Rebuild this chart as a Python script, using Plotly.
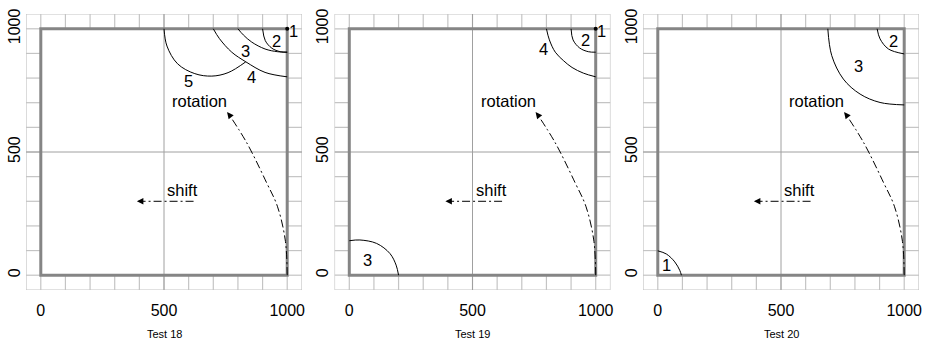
import plotly.graph_objects as go

# ---------------- data ----------------
panel_titles = ["Test 18", "Test 19", "Test 20"]
tick_vals = [0, 500, 1000]
band_ticks = [0, 100, 200, 300, 400, 500, 600, 700, 800, 900, 1000]
axis_range = [-60, 1060]

p18_c2_x = [900, 911, 938, 972, 1000]
p18_c2_y = [1000, 952, 921, 907, 905]
p18_c3_x = [800, 822, 856, 910, 960, 1000]
p18_c3_y = [1000, 975, 946, 918, 907, 905]
p18_c4_x = [700, 725, 775, 832, 910, 1000]
p18_c4_y = [1000, 960, 905, 866, 823, 805]
p18_c5_x = [500, 512, 555, 625, 694, 760, 832]
p18_c5_y = [1000, 930, 858, 818, 808, 822, 866]

p19_c2_x = [900, 908, 935, 970, 1000]
p19_c2_y = [1000, 955, 922, 907, 905]
p19_c4_x = [800, 812, 836, 870, 904, 950, 1000]
p19_c4_y = [1000, 955, 905, 870, 843, 820, 805]
p19_c3_x = [0, 43, 111, 165, 190, 200]
p19_c3_y = [140, 143, 129, 88, 41, 0]

p20_c2_x = [890, 902, 936, 1000]
p20_c2_y = [1000, 959, 918, 898]
p20_c3_x = [690, 706, 753, 821, 902, 1000]
p20_c3_y = [1000, 891, 796, 735, 701, 691]
p20_c1_x = [0, 35, 69, 89, 96]
p20_c1_y = [99, 86, 54, 20, 0]

curves = [
    [(p18_c2_x, p18_c2_y), (p18_c3_x, p18_c3_y), (p18_c4_x, p18_c4_y), (p18_c5_x, p18_c5_y)],
    [(p19_c2_x, p19_c2_y), (p19_c4_x, p19_c4_y), (p19_c3_x, p19_c3_y)],
    [(p20_c2_x, p20_c2_y), (p20_c3_x, p20_c3_y), (p20_c1_x, p20_c1_y)],
]
corner_points = [[(1000, 1000)], [(1000, 1000)], []]

labels = [
    [("1", 1024, 993), ("2", 958, 952), ("3", 829, 909), ("4", 856, 803), ("5", 599, 789)],
    [("1", 1024, 993), ("2", 960, 954), ("4", 789, 918), ("3", 73, 61)],
    [("1", 35, 41), ("2", 957, 952), ("3", 814, 850)],
]

rot_x = [1000, 992, 960, 917, 836, 768]
rot_y = [0, 143, 280, 374, 537, 646]
rot_head = (756, 662)
rot_tail = (776, 637)
shift_x = [620, 405]
shift_y = [300, 300]
shift_head = (390, 300)
shift_tail = (420, 300)
rotation_text = ("rotation", 646, 707)
shift_text = ("shift", 576, 347)

# ---------------- layout ----------------
W, H = 930, 342
x_domains = [[26 / W, 302 / W], [334.5 / W, 610.5 / W], [643 / W, 919 / W]]
y_domain = [52 / H, 328 / H]
FONT = "Liberation Sans, Arial, Helvetica, sans-serif"
BAND = "#c4c4c4"
GRID = "#a0a0a0"
BORDER = "#858585"

fig = go.Figure()
shapes = []
annotations = []

for i in range(3):
    xa = "x" if i == 0 else f"x{i+1}"
    ya = "y" if i == 0 else f"y{i+1}"
    lo, hi = axis_range
    for t in band_ticks:
        for (a, b) in [(lo, 0), (1000, hi)]:
            shapes.append(dict(type="line", xref=xa, yref=ya, x0=t, x1=t, y0=a, y1=b,
                               line=dict(color=BAND, width=1.2), layer="below"))
            shapes.append(dict(type="line", xref=xa, yref=ya, y0=t, y1=t, x0=a, x1=b,
                               line=dict(color=BAND, width=1.2), layer="below"))
    shapes.append(dict(type="rect", xref=xa, yref=ya, x0=lo, x1=hi, y0=lo, y1=hi,
                       line=dict(color=BAND, width=1.2), layer="below"))
    shapes.append(dict(type="line", xref=xa, yref=ya, x0=500, x1=500, y0=lo, y1=hi,
                       line=dict(color=GRID, width=1), layer="below"))
    shapes.append(dict(type="line", xref=xa, yref=ya, y0=500, y1=500, x0=lo, x1=hi,
                       line=dict(color=GRID, width=1), layer="below"))
    shapes.append(dict(type="rect", xref=xa, yref=ya, x0=0, x1=1000, y0=0, y1=1000,
                       line=dict(color=BORDER, width=3), layer="below"))

    for (cx, cy) in curves[i]:
        fig.add_trace(go.Scatter(x=cx, y=cy, xaxis=xa, yaxis=ya, mode="lines",
                                 line=dict(color="black", width=1, shape="spline", smoothing=1),
                                 hoverinfo="skip", showlegend=False))
    for (px, py) in corner_points[i]:
        fig.add_trace(go.Scatter(x=[px], y=[py], xaxis=xa, yaxis=ya, mode="markers",
                                 marker=dict(color="black", size=4), showlegend=False))

    fig.add_trace(go.Scatter(x=rot_x, y=rot_y, xaxis=xa, yaxis=ya, mode="lines",
                             line=dict(color="black", width=1, shape="spline",
                                       dash="8px,3px,2px,3px"),
                             hoverinfo="skip", showlegend=False))
    fig.add_trace(go.Scatter(x=shift_x, y=shift_y, xaxis=xa, yaxis=ya, mode="lines",
                             line=dict(color="black", width=1, dash="8px,3px,2px,3px"),
                             hoverinfo="skip", showlegend=False))
    for head, tail in [(rot_head, rot_tail), (shift_head, shift_tail)]:
        annotations.append(dict(x=head[0], y=head[1], ax=tail[0], ay=tail[1],
                                xref=xa, yref=ya, axref=xa, ayref=ya, text="",
                                showarrow=True, arrowhead=2, arrowsize=1.3,
                                arrowwidth=1, arrowcolor="black"))

    for (txt, tx, ty) in labels[i] + [rotation_text, shift_text]:
        annotations.append(dict(x=tx, y=ty, xref=xa, yref=ya, text=txt, showarrow=False,
                                font=dict(size=16.5, color="black", family=FONT)))

    annotations.append(dict(x=0.5, y=(H - 334) / H, xref=f"{xa} domain", yref="paper",
                            yanchor="middle", text=panel_titles[i], showarrow=False,
                            font=dict(size=11, color="black", family=FONT)))

    axis_common = dict(range=axis_range, showgrid=False, zeroline=False, showline=False,
                       tickvals=tick_vals, ticktext=[str(v) for v in tick_vals],
                       tickfont=dict(size=16, color="black", family=FONT),
                       ticks="outside", tickcolor="rgba(0,0,0,0)",
                       fixedrange=True, automargin=False)
    xkey = "xaxis" if i == 0 else f"xaxis{i+1}"
    ykey = "yaxis" if i == 0 else f"yaxis{i+1}"
    fig.layout[xkey] = dict(domain=x_domains[i], anchor=ya, ticklen=6, **axis_common)
    fig.layout[ykey] = dict(domain=y_domain, anchor=xa, tickangle=-90, ticklen=0.1,
                            ticklabelstandoff=-1, **axis_common)

fig.update_layout(width=W, height=H, margin=dict(l=0, r=0, t=0, b=0, autoexpand=False),
                  paper_bgcolor="white", plot_bgcolor="white",
                  shapes=shapes, annotations=annotations, showlegend=False)

fig.write_html("out.html")
